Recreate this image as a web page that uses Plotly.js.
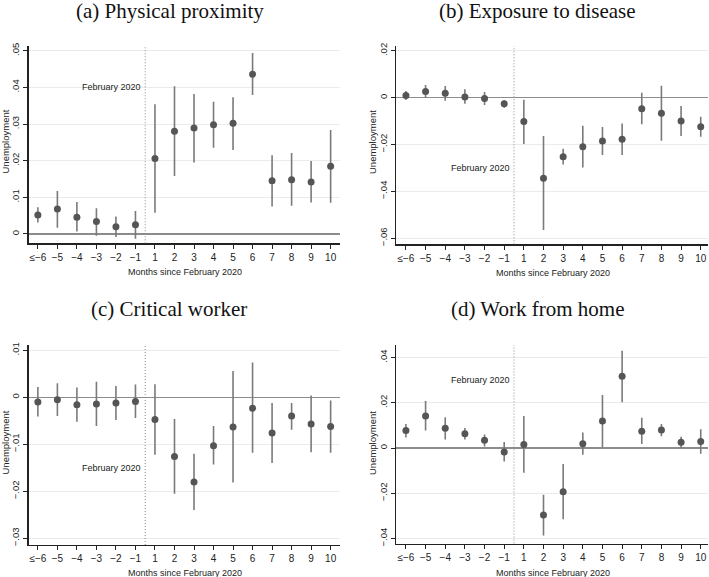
<!DOCTYPE html>
<html>
<head>
<meta charset="utf-8">
<script src="https://cdn.plot.ly/plotly-3.0.1.min.js"></script>
<style>html,body{margin:0;padding:0;background:#fff;}#chart{width:709px;height:577px;}</style>
</head>
<body>
<div id="chart"></div>
<script>
// Categories (months since February 2020)
const months = ["≤−6","−5","−4","−3","−2","−1","1","2","3","4","5","6","7","8","9","10"];

// (a) Physical proximity
const physEst = [0.0052,0.0068,0.0046,0.0034,0.0020,0.0025,0.0206,0.0280,0.0289,0.0298,0.0302,0.0436,0.0145,0.0148,0.0142,0.0185];
const physHi  = [0.0073,0.0117,0.0087,0.0070,0.0048,0.0063,0.0354,0.0403,0.0382,0.0361,0.0373,0.0494,0.0215,0.0221,0.0199,0.0284];
const physLo  = [0.0031,0.0017,0.0007,-0.0005,-0.0008,-0.0013,0.0058,0.0158,0.0195,0.0235,0.0229,0.0379,0.0075,0.0077,0.0086,0.0085];

// (b) Exposure to disease
const exposEst = [0.0009,0.0026,0.0019,0.0003,-0.0004,-0.0026,-0.0102,-0.0344,-0.0252,-0.0209,-0.0185,-0.0177,-0.0047,-0.0067,-0.0100,-0.0124];
const exposHi  = [0.0028,0.0054,0.0050,0.0036,0.0024,-0.0011,-0.0009,-0.0164,-0.0218,-0.0120,-0.0125,-0.0110,0.0021,0.0051,-0.0036,-0.0081];
const exposLo  = [-0.0010,0.0000,-0.0013,-0.0026,-0.0031,-0.0043,-0.0198,-0.0565,-0.0285,-0.0298,-0.0245,-0.0245,-0.0114,-0.0184,-0.0164,-0.0167];

// (c) Critical worker
const critEst = [-0.0010,-0.0005,-0.0016,-0.0014,-0.0012,-0.0009,-0.0047,-0.0126,-0.0180,-0.0103,-0.0063,-0.0023,-0.0076,-0.0040,-0.0057,-0.0062];
const critHi  = [0.0022,0.0030,0.0021,0.0033,0.0024,0.0027,0.0028,-0.0046,-0.0120,-0.0061,0.0056,0.0074,-0.0012,-0.0012,0.0004,-0.0007];
const critLo  = [-0.0041,-0.0040,-0.0052,-0.0061,-0.0048,-0.0044,-0.0122,-0.0205,-0.0240,-0.0143,-0.0181,-0.0118,-0.0140,-0.0069,-0.0117,-0.0118];

// (d) Work from home
const wfhEst = [0.0077,0.0141,0.0087,0.0063,0.0034,-0.0018,0.0016,-0.0296,-0.0193,0.0019,0.0119,0.0317,0.0074,0.0080,0.0025,0.0029];
const wfhHi  = [0.0106,0.0208,0.0136,0.0088,0.0060,0.0027,0.0141,-0.0206,-0.0071,0.0069,0.0234,0.0430,0.0134,0.0106,0.0050,0.0083];
const wfhLo  = [0.0047,0.0077,0.0038,0.0038,0.0007,-0.0060,-0.0109,-0.0387,-0.0315,-0.0030,0.0003,0.0202,0.0018,0.0052,0.0000,-0.0025];

// Y tick values/labels
const physTicks = [0,0.01,0.02,0.03,0.04,0.05];
const physTickText = ["0",".01",".02",".03",".04",".05"];
const exposTicks = [-0.06,-0.04,-0.02,0,0.02];
const exposTickText = ["−.06","−.04","−.02","0",".02"];
const critTicks = [-0.03,-0.02,-0.01,0,0.01];
const critTickText = ["−.03","−.02","−.01","0",".01"];
const wfhTicks = [-0.04,-0.02,0,0.02,0.04];
const wfhTickText = ["−.04","−.02","0",".02",".04"];

const panelTitles = ["(a) Physical proximity","(b) Exposure to disease","(c) Critical worker","(d) Work from home"];
const xTitle = "Months since February 2020";
const yTitle = "Unemployment";
const eventLabel = "February 2020";
const eventLabelY = [0.040,-0.030,-0.015,0.030];

const idx = months.map((m,i)=>i);
const W = 709, H = 577;
const px = v => v / W;
const py = v => 1 - v / H;

const series = [
  [physEst, physHi, physLo],
  [exposEst, exposHi, exposLo],
  [critEst, critHi, critLo],
  [wfhEst, wfhHi, wfhLo]
];

const traces = series.map((s, k) => {
  const [est, hi, lo] = s;
  const sfx = k === 0 ? '' : String(k+1);
  return {
    type: 'scatter', mode: 'markers',
    x: idx, y: est,
    xaxis: 'x' + sfx, yaxis: 'y' + sfx,
    marker: {color: '#555555', size: 7},
    error_y: {
      type: 'data', symmetric: false,
      array: hi.map((h,i)=>h-est[i]),
      arrayminus: lo.map((l,i)=>est[i]-l),
      color: '#7a7a7a', thickness: 1.6, width: 0
    },
    showlegend: false, hoverinfo: 'skip'
  };
});

const fam = 'Liberation Sans, Arial, sans-serif';
const font = {family: fam, size: 10, color: '#222'};

function xax(domain, range) {
  return {
    domain: domain, range: range,
    tickmode: 'array', tickvals: idx, ticktext: months,
    ticks: 'outside', ticklen: 4, tickwidth: 1, tickcolor: '#222',
    showline: true, linecolor: '#222', linewidth: 1.3,
    showgrid: false, zeroline: false,
    tickfont: {family: fam, size: 10, color: '#222'}
  };
}
function yax(domain, range, tv, tt, xanchor) {
  return {
    domain: domain, range: range, anchor: xanchor,
    tickmode: 'array', tickvals: tv, ticktext: tt, tickangle: -90,
    ticks: 'outside', ticklen: 4, tickwidth: 1, tickcolor: '#222',
    showline: true, linecolor: '#222', linewidth: 1.3,
    showgrid: true, gridcolor: '#ebebeb', gridwidth: 1,
    zeroline: true, zerolinecolor: '#8c8c8c', zerolinewidth: 1.4,
    tickfont: {family: fam, size: 9.5, color: '#222'}
  };
}

const xdomL = [px(28.5), px(340)];
const xdomR = [px(396.3), px(708)];

const layout = {
  width: W, height: H,
  margin: {l: 0, r: 0, t: 0, b: 0},
  paper_bgcolor: '#fff', plot_bgcolor: '#fff',
  font: font,
  xaxis: xax(xdomL, [-0.48, 15.48]),
  yaxis: yax([py(243.3), py(46)], [-0.00254, 0.05128], physTicks, physTickText, 'x'),
  xaxis2: xax(xdomR, [-0.49, 15.37]),
  yaxis2: yax([py(244.3), py(46)], [-0.0626, 0.02206], exposTicks, exposTickText, 'x2'),
  xaxis3: xax(xdomL, [-0.48, 15.48]),
  yaxis3: yax([py(545), py(345)], [-0.03142, 0.01113], critTicks, critTickText, 'x3'),
  xaxis4: xax(xdomR, [-0.49, 15.37]),
  yaxis4: yax([py(543.5), py(345)], [-0.0422, 0.04553], wfhTicks, wfhTickText, 'x4'),
  shapes: [],
  annotations: []
};
layout.xaxis.anchor = 'y';
layout.xaxis2.anchor = 'y2';
layout.xaxis3.anchor = 'y3';
layout.xaxis4.anchor = 'y4';

const titleX = [170, 537.5, 169, 537.5];
const titleY = [11, 11, 309, 309];
const yTitleX = [4.5, 372, 4.5, 372];
const yTitleY = [142, 142, 443, 443];
const xTitleX = [184.5, 553, 184.5, 553];
const xTitleY = [272, 272.5, 572.5, 572.5];

for (let k = 0; k < 4; k++) {
  const sfx = k === 0 ? '' : String(k+1);
  layout.shapes.push({
    type: 'line', xref: 'x' + sfx, yref: 'y' + sfx + ' domain',
    x0: 5.5, x1: 5.5, y0: 0, y1: 1,
    line: {color: '#8a8a8a', width: 1, dash: '1px,2px'}
  });
  layout.annotations.push({
    xref: 'x' + sfx, yref: 'y' + sfx, x: 5.5, y: eventLabelY[k],
    xanchor: 'right', yanchor: 'middle', xshift: -2, showarrow: false,
    text: eventLabel, font: {family: fam, size: 9, color: '#222'}
  });
  layout.annotations.push({
    xref: 'paper', yref: 'paper', x: px(titleX[k]), y: py(titleY[k]),
    xanchor: 'center', yanchor: 'middle', showarrow: false,
    text: panelTitles[k], font: {family: 'Liberation Serif, DejaVu Serif, serif', size: 21, color: '#111'}
  });
  layout.annotations.push({
    xref: 'paper', yref: 'paper', x: px(yTitleX[k]), y: py(yTitleY[k]),
    xanchor: 'center', yanchor: 'middle', showarrow: false, textangle: -90,
    text: yTitle, font: {family: fam, size: 9.5, color: '#222'}
  });
  layout.annotations.push({
    xref: 'paper', yref: 'paper', x: px(xTitleX[k]), y: py(xTitleY[k]),
    xanchor: 'center', yanchor: 'middle', showarrow: false,
    text: xTitle, font: {family: fam, size: 9, color: '#222'}
  });
}

Plotly.newPlot('chart', traces, layout, {displayModeBar: false, staticPlot: true});
</script>
</body>
</html>
